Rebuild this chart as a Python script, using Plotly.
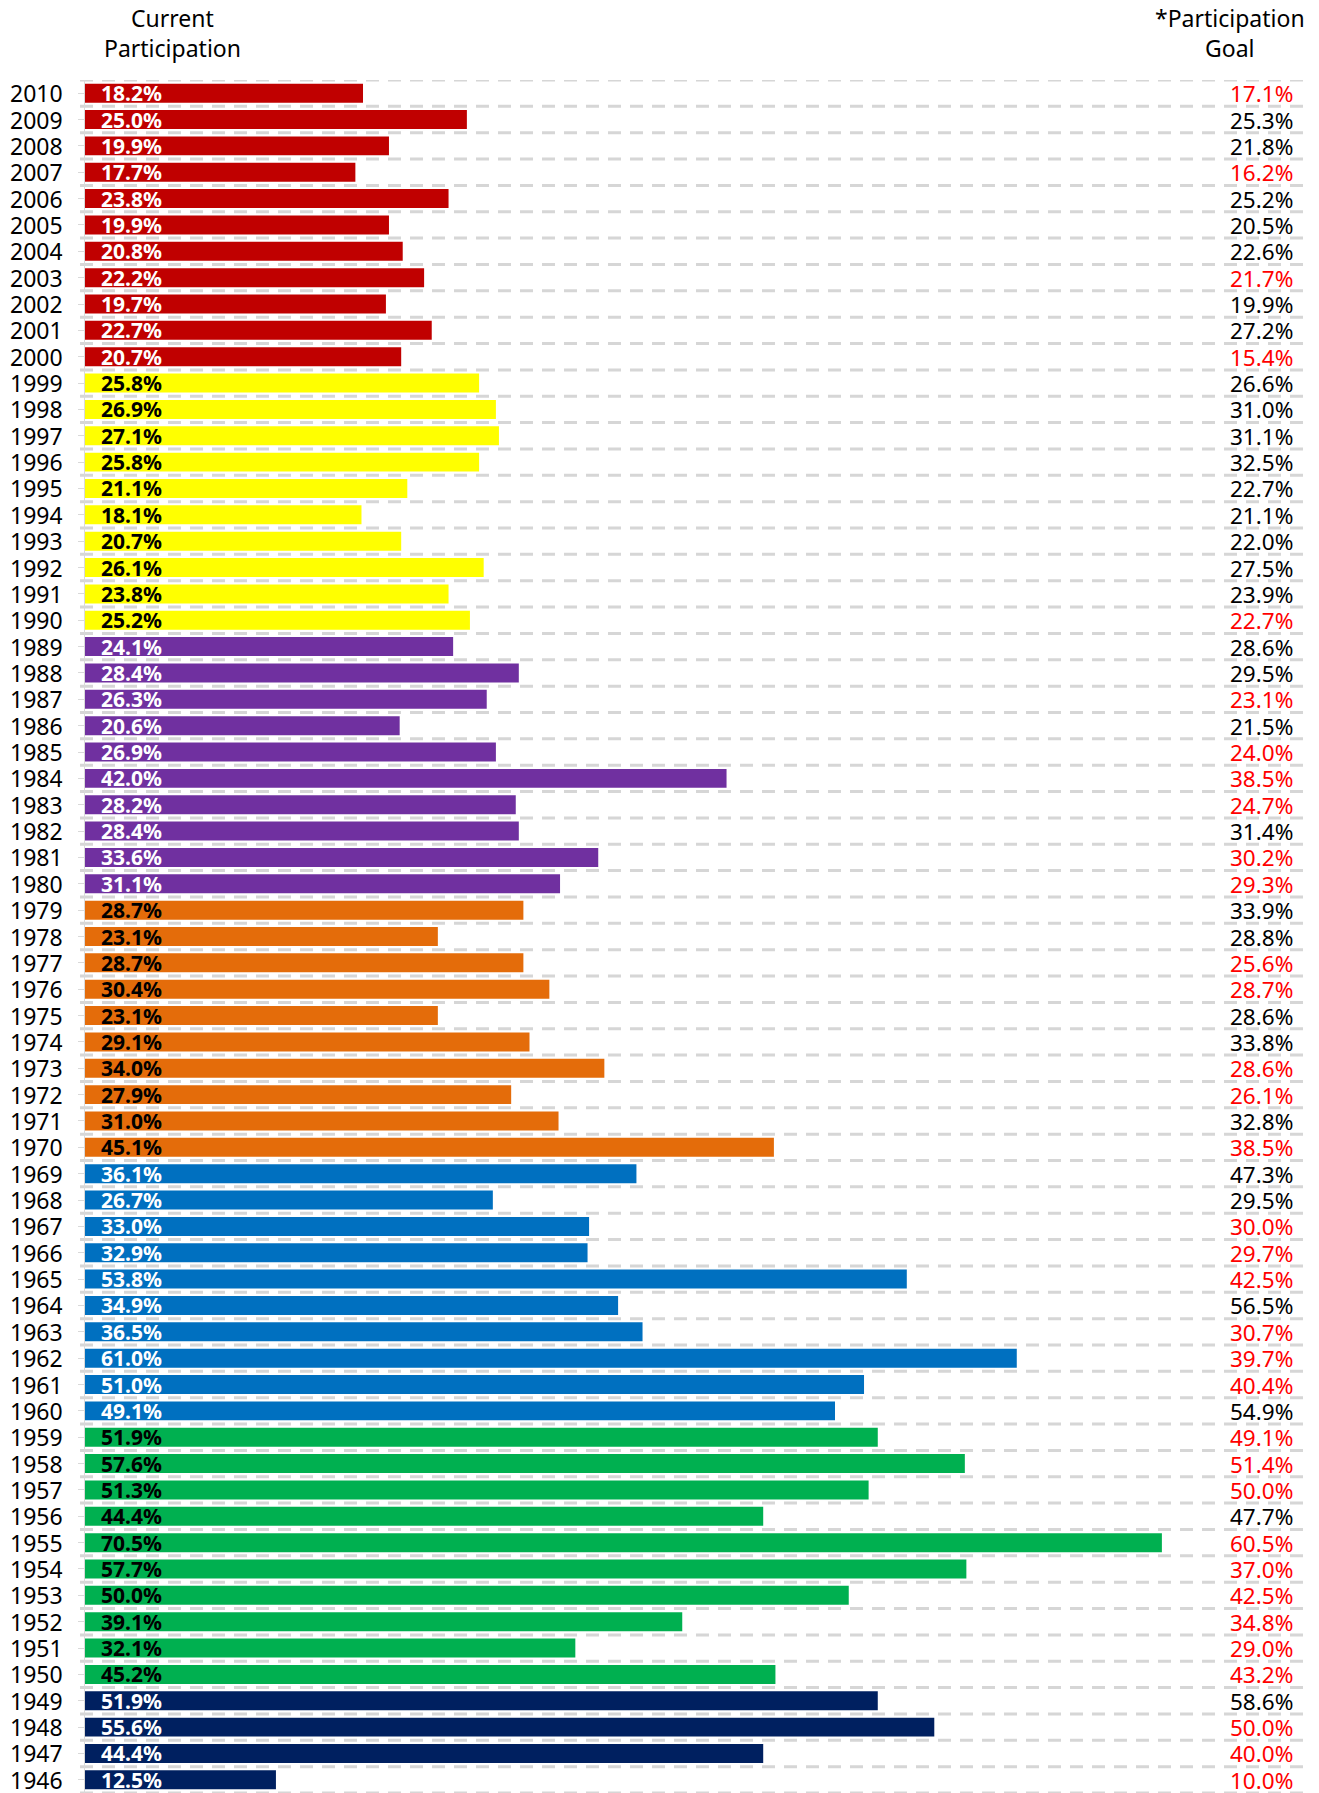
import plotly.graph_objects as go

years = list(range(2010, 1945, -1))
current = [18.2, 25.0, 19.9, 17.7, 23.8, 19.9, 20.8, 22.2, 19.7, 22.7, 20.7,
           25.8, 26.9, 27.1, 25.8, 21.1, 18.1, 20.7, 26.1, 23.8, 25.2,
           24.1, 28.4, 26.3, 20.6, 26.9, 42.0, 28.2, 28.4, 33.6, 31.1,
           28.7, 23.1, 28.7, 30.4, 23.1, 29.1, 34.0, 27.9, 31.0, 45.1,
           36.1, 26.7, 33.0, 32.9, 53.8, 34.9, 36.5, 61.0, 51.0, 49.1,
           51.9, 57.6, 51.3, 44.4, 70.5, 57.7, 50.0, 39.1, 32.1, 45.2,
           51.9, 55.6, 44.4, 12.5]
goal = [17.1, 25.3, 21.8, 16.2, 25.2, 20.5, 22.6, 21.7, 19.9, 27.2, 15.4,
        26.6, 31.0, 31.1, 32.5, 22.7, 21.1, 22.0, 27.5, 23.9, 22.7,
        28.6, 29.5, 23.1, 21.5, 24.0, 38.5, 24.7, 31.4, 30.2, 29.3,
        33.9, 28.8, 25.6, 28.7, 28.6, 33.8, 28.6, 26.1, 32.8, 38.5,
        47.3, 29.5, 30.0, 29.7, 42.5, 56.5, 30.7, 39.7, 40.4, 54.9,
        49.1, 51.4, 50.0, 47.7, 60.5, 37.0, 42.5, 34.8, 29.0, 43.2,
        58.6, 50.0, 40.0, 10.0]

# styles by decade group
group_fill = {2000: "#c00000", 1990: "#ffff00", 1980: "#7030a0", 1970: "#e46c0a",
              1960: "#0070c0", 1950: "#00b050", 1940: "#002060"}
group_text = {2000: "white", 1990: "black", 1980: "white", 1970: "black",
              1960: "white", 1950: "black", 1940: "white"}

def group(y):
    return min(y // 10 * 10, 2000)

FONT = "Noto Sans"
fills = [group_fill[group(y)] for y in years]

fig = go.Figure()
fig.add_trace(go.Bar(
    x=current, y=years, orientation="h",
    marker=dict(color=fills, line=dict(width=0)),
    width=0.72, hoverinfo="x+y",
))

annotations = []
for y in years:
    annotations.append(dict(
        x=0, y=y, xref="x", yref="y", xanchor="right", yanchor="middle",
        xshift=-20, text=str(y), showarrow=False, height=24,
        font=dict(family=FONT, size=23, color="black"),
    ))
for y, c in zip(years, current):
    annotations.append(dict(
        x=0, y=y, xref="x", yref="y", xanchor="left", yanchor="middle",
        xshift=14, text=f"<b>{c:.1f}%</b>", showarrow=False, height=22,
        font=dict(family=FONT, size=21, color=group_text[group(y)]),
    ))
for y, c, g in zip(years, current, goal):
    annotations.append(dict(
        x=1, y=y, xref="paper", yref="y", xanchor="right", yanchor="middle",
        xshift=-12, text=f"{g:.1f}%", showarrow=False, height=24,
        font=dict(family=FONT, size=22.5, color="#ff0000" if c > g else "black"),
    ))
annotations.append(dict(
    x=87 / 1222, y=1, xref="paper", yref="paper", xanchor="center", yanchor="bottom",
    yshift=14, text="Current<br>Participation", showarrow=False,
    font=dict(family=FONT, size=23, color="black"),
))
annotations.append(dict(
    x=1, y=1, xref="paper", yref="paper", xanchor="right", yanchor="bottom",
    xshift=0, yshift=14, text="*Participation<br>Goal", showarrow=False, align="center",
    font=dict(family=FONT, size=23, color="black"),
))

# dashed separators at the category boundaries
boundaries = [y + 0.5 for y in years] + [years[-1] - 0.5]
shapes = [dict(type="line", xref="paper", yref="y", x0=-5 / 1222, x1=1, y0=b, y1=b,
               line=dict(color="#d6d6d6", width=3, dash="13px,9px"), layer="below")
          for b in boundaries]

fig.update_layout(
    width=1319, height=1793,
    margin=dict(l=85, r=12, t=80, b=0),
    paper_bgcolor="white", plot_bgcolor="white",
    showlegend=False, bargap=0.28,
    annotations=annotations, shapes=shapes,
    font=dict(family=FONT, color="black"),
)
fig.update_xaxes(range=[0, 80], showgrid=False, zeroline=False, showticklabels=False,
                 showline=False, fixedrange=True)
fig.update_yaxes(
    range=[1945.5, 2010.5], tickmode="array", tickvals=years,
    showticklabels=False,
    ticks="outside", ticklen=6, tickcolor="#d9d9d9", tickwidth=1,
    showline=True, linecolor="#d9d9d9", linewidth=1,
    showgrid=False, zeroline=False,
)

fig.write_html("out.html", config={"displayModeBar": False},
               post_script="document.body.style.margin='0px';document.body.style.overflow='hidden';")
